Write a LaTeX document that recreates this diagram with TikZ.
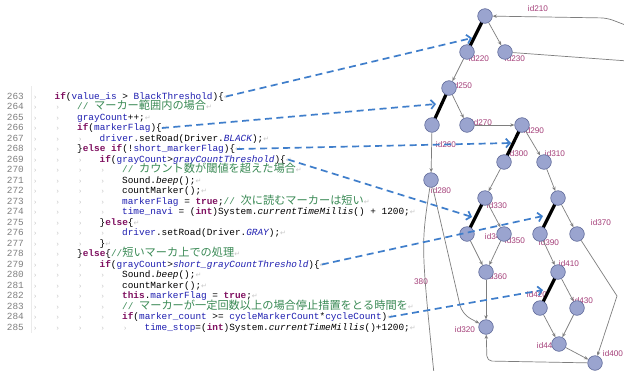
\documentclass[tikz,border=0pt]{standalone}
\usepackage{fontspec}
\setmainfont{Liberation Sans}
\setmonofont{Liberation Mono}
\newfontfamily\cjkfont{Noto Sans CJK JP}
\newfontfamily\symfont{DejaVu Sans}
\usetikzlibrary{arrows.meta}
\definecolor{kwc}{HTML}{7F1060}
\definecolor{fldc}{HTML}{1E1EB0}
\definecolor{cmc}{HTML}{3A8A55}
\definecolor{lnc}{HTML}{808080}
\definecolor{tabc}{HTML}{C4C4C4}
\definecolor{retc}{HTML}{C8C8C8}
\definecolor{vfill}{HTML}{9AA4CF}
\definecolor{vdraw}{HTML}{5F6A99}
\definecolor{labc}{HTML}{A5407A}
\definecolor{edgec}{HTML}{7E7E7E}
\definecolor{dashc}{HTML}{3F7ECB}
\newcommand\kw[1]{\textcolor{kwc}{\bfseries #1}}
\newcommand\fld[1]{\textcolor{fldc}{#1}}
\newcommand\sfld[1]{\textcolor{fldc}{\itshape #1}}
\newcommand\cm[1]{\textcolor{cmc}{#1}}
\newcommand\jp[1]{{\fontsize{11.2pt}{12pt}\selectfont\cjkfont #1}}
\newcommand\retm{{\fontsize{7pt}{8pt}\selectfont\symfont\textcolor{retc}{↵}}}
\newcommand\codefont{\fontsize{9.4pt}{10.5pt}\selectfont\ttfamily}
\pgfdeclarelayer{back}
\pgfdeclarelayer{bg}
\pgfdeclarelayer{fg}
\pgfsetlayers{back,bg,main,fg}
\newcommand\codeline[3]{%
  \pgfmathsetmacro\yy{99+(#1-263)*10.5}%
  \pgfmathsetmacro\xx{32+#2*22.5}%
  \node[lnum] (N#1) at (24,\yy) {#1};
  \foreach \k in {1,...,#2}{\node[tabm] (T#1-\k) at ({33+(\k-1)*22.5},\yy) {›};}
  \node[codetext] (L#1) at (\xx,\yy) {#3\retm};
}
\begin{document}
\begin{tikzpicture}[x=1pt,y=-1pt,
  lnum/.style={anchor=base east,inner sep=0pt,font=\codefont,text=lnc},
  tabm/.style={anchor=base west,inner sep=0pt,font=\fontsize{7pt}{8pt}\selectfont\ttfamily,text=tabc},
  codetext/.style={anchor=base west,inner sep=0pt,font=\codefont},
  vtx/.style={circle,fill=vfill,draw=vdraw,line width=0.6pt,minimum size=14.6pt,inner sep=0pt},
  lab/.style={inner sep=0pt,font=\fontsize{8.2pt}{9pt}\selectfont,text=labc},
  gedge/.style={draw=edgec,line width=0.7pt,-{Stealth[length=4.2pt,width=3.4pt]}},
  gline/.style={draw=edgec,line width=0.7pt},
  thickedge/.style={draw=black,line width=3.2pt},
  dasharrow/.style={draw=dashc,line width=1.7pt,dash pattern=on 7pt off 4.5pt,-{Straight Barb[length=4pt,width=9pt]}}
]
\useasboundingbox (0,0) rectangle (624,370);
\begin{pgfonlayer}{back}
\fill[white] (0,0) rectangle (624,370);
\draw[draw=black!8,line width=0.5pt] (31.5,86) -- (31.5,333);
\end{pgfonlayer}

\codeline{263}{1}{\kw{if}(\fld{value\_is} > \fld{BlackThreshold})\{}
\codeline{264}{2}{\cm{// \jp{マーカー範囲内の場合}}}
\codeline{265}{2}{\fld{grayCount}++;}
\codeline{266}{2}{\kw{if}(\fld{markerFlag})\{}
\codeline{267}{3}{\fld{driver}.setRoad(Driver.\sfld{BLACK});}
\codeline{268}{2}{\}\kw{else} \kw{if}(!\fld{short\_markerFlag})\{}
\codeline{269}{3}{\kw{if}(\fld{grayCount}>\sfld{grayCountThreshold})\{}
\codeline{270}{4}{\cm{// \jp{カウント数が閾値を超えた場合}}}
\codeline{271}{4}{Sound.\textit{beep}();}
\codeline{272}{4}{countMarker();}
\codeline{273}{4}{\fld{markerFlag} = \kw{true};\cm{// \jp{次に読むマーカーは短い}}}
\codeline{274}{4}{\fld{time\_navi} = (\kw{int})System.\textit{currentTimeMillis}() + 1200;}
\codeline{275}{3}{\}\kw{else}\{}
\codeline{276}{4}{\fld{driver}.setRoad(Driver.\sfld{GRAY});}
\codeline{277}{3}{\}}
\codeline{278}{2}{\}\kw{else}\{\cm{//\jp{短いマーカ上での処理}}}
\codeline{279}{3}{\kw{if}(\fld{grayCount}>\sfld{short\_grayCountThreshold})\{}
\codeline{280}{4}{Sound.\textit{beep}();}
\codeline{281}{4}{countMarker();}
\codeline{282}{4}{\kw{this}.\fld{markerFlag} = \kw{true};}
\codeline{283}{4}{\cm{// \jp{マーカーが一定回数以上の場合停止措置をとる時間を}}}
\codeline{284}{4}{\kw{if}(\fld{marker\_count} >= \fld{cycleMarkerCount}*\fld{cycleCount})}
\codeline{285}{5}{\fld{time\_stop}=(\kw{int})System.\textit{currentTimeMillis}()+1200;}

% graph vertices
\node[vtx] (n210) at (485,16) {};
\node[vtx] (n220) at (467,52) {};
\node[vtx] (n230) at (505,52) {};
\node[vtx] (n250) at (449,88) {};
\node[vtx] (n260) at (432,125) {};
\node[vtx] (n270) at (467,125) {};
\node[vtx] (n290) at (522,125) {};
\node[vtx] (n300) at (504,162) {};
\node[vtx] (n310) at (544,162) {};
\node[vtx] (n280) at (431,180) {};
\node[vtx] (n330) at (485,198) {};
\node[vtx] (nX) at (558,198) {};
\node[vtx] (n340) at (467,234) {};
\node[vtx] (n350) at (504,234) {};
\node[vtx] (n390) at (540,234) {};
\node[vtx] (n370) at (577,234) {};
\node[vtx] (n360) at (486,272) {};
\node[vtx] (n410) at (558,272) {};
\node[vtx] (n420) at (540,308) {};
\node[vtx] (n430) at (577,308) {};
\node[vtx] (n320) at (486,327) {};
\node[vtx] (n440) at (559,344) {};
\node[vtx] (n400) at (595,363) {};

\coordinate (in210a) at (628,26);
\coordinate (in210b) at (607,18);
\coordinate (out230) at (628,61);
\coordinate (b380) at (434,374);
\coordinate (k280) at (462,314);
\coordinate (k400) at (487,361);
\coordinate (k370) at (617,296);

\begin{pgfonlayer}{bg}
% labels
\node[lab] (l210) at (538,9) {id210};
\node[lab] (l220) at (479,59) {id220};
\node[lab] (l230) at (515,59) {id230};
\node[lab] (l250) at (462,86) {id250};
\node[lab] (l270) at (482,123) {id270};
\node[lab] (l260) at (446,145) {id260};
\node[lab] (l290) at (534,131) {id290};
\node[lab] (l300) at (518,154) {id300};
\node[lab] (l310) at (555,154) {id310};
\node[lab] (l280) at (441,191) {id280};
\node[lab] (l330) at (497,206) {id330};
\node[lab] (l340) at (495,237) {id340};
\node[lab] (l350) at (515,241) {id350};
\node[lab] (l390) at (549,243) {id390};
\node[lab] (l370) at (601,223) {id370};
\node[lab] (l360) at (497,277) {id360};
\node[lab] (l410) at (569,264) {id410};
\node[lab] (l420) at (537,295) {id420};
\node[lab] (l430) at (583,301) {id430};
\node[lab] (l320) at (465,330) {id320};
\node[lab] (l440) at (547,346) {id440};
\node[lab] (l400) at (613,354) {id400};
\node[lab] (l380) at (421,282) {380};
% thick edges
\draw[thickedge] (n210.center) -- (n220.center);
\draw[thickedge] (n250.center) -- (n260.center);
\draw[thickedge] (n290.center) -- (n300.center);
\draw[thickedge] (n330.center) -- (n340.center);
\draw[thickedge] (nX.center) -- (n390.center);
\draw[thickedge] (n410.center) -- (n420.center);
% gray edges
\draw[gedge] (n210) -- (n230);
\draw[gedge] (n220) -- (n250);
\draw[gedge] (n250) -- (n270);
\draw[gedge] (n270) -- (n290);
\draw[gedge] (n260) -- (n280);
\draw[gedge] (n290) -- (n310);
\draw[gedge] (n300) -- (n330);
\draw[gedge] (n310) -- (nX);
\draw[gedge] (n330) -- (n350);
\draw[gedge] (nX) -- (n370);
\draw[gedge] (n340) -- (n360);
\draw[gedge] (n350) -- (n360);
\draw[gedge] (n390) -- (n410);
\draw[gedge] (n410) -- (n430);
\draw[gedge] (n420) -- (n440);
\draw[gedge] (n430) -- (n440);
\draw[gedge] (n440) -- (n400);
\draw[gedge] (n360) -- (n320);
\draw[gedge,rounded corners=5pt] (n400) -- (k400) -- (n320);
\draw[gedge] (n370) -- (k370) -- (n400);
\draw[gedge,rounded corners=6pt] (in210a) -- (in210b) -- (n210);
\draw[gline] (n230) -- (out230);
\draw[gline] (n280) .. controls (421,245) .. (b380);
\draw[gedge,rounded corners=9pt] (n280) -- (k280) -- (n320);
\end{pgfonlayer}

% dashed pointer arrows
\coordinate (a1) at (472,38);
\coordinate (a2) at (436,104);
\coordinate (a3) at (511,143);
\coordinate (a4) at (472,217);
\coordinate (a5) at (543,216);
\coordinate (a6) at (543,290);
\begin{pgfonlayer}{fg}
\draw[dasharrow] ([xshift=-4pt]L263.east) -- (a1);
\draw[dasharrow] ([xshift=-6pt]L266.east) -- (a2);
\draw[dasharrow] ([xshift=-4pt]L268.east) -- (a3);
\draw[dasharrow] ([xshift=-4pt]L269.east) -- (a4);
\draw[dasharrow] ([xshift=-4pt]L279.east) -- (a5);
\draw[dasharrow] ([xshift=-4pt]L284.east) -- (a6);
\end{pgfonlayer}
\end{tikzpicture}
\end{document}
